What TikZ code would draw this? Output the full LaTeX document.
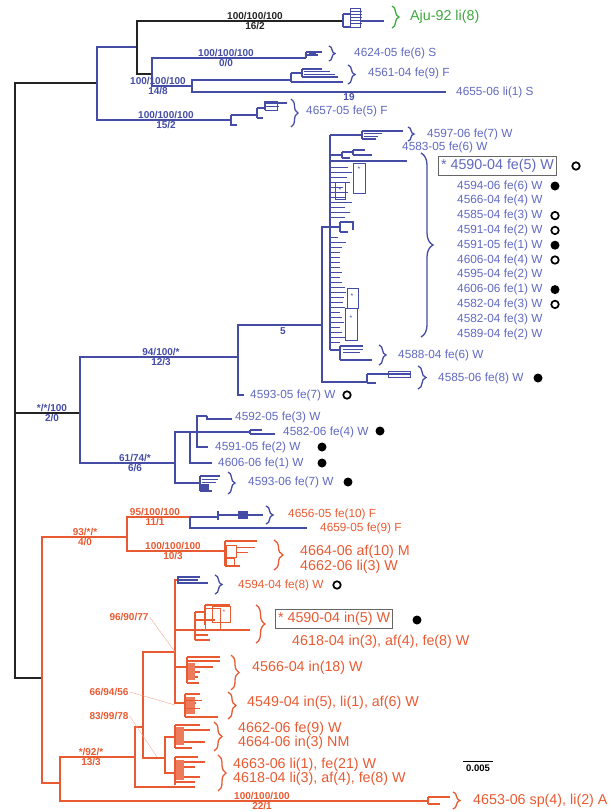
\documentclass[tikz,border=0pt]{standalone}
\usepackage{fontspec}
\setmainfont{Liberation Sans}
\usetikzlibrary{decorations.pathreplacing}
\definecolor{treeblue}{RGB}{68,76,165}
\definecolor{labblue}{RGB}{96,104,192}
\definecolor{treered}{RGB}{232,90,50}
\definecolor{treegreen}{RGB}{64,168,64}
\definecolor{treeblack}{RGB}{35,35,35}

\begin{document}
\begin{tikzpicture}[x=1pt,y=-1pt,
  bl/.style={draw=treeblue,line width=1.2pt},
  rd/.style={draw=treered,line width=1.2pt},
  bk/.style={draw=treeblack,line width=2pt},
  thin/.style={line width=0.6pt},
  lbl/.style={anchor=west,inner sep=0pt,font=\fontsize{11.8}{12}\selectfont},
  biglbl/.style={anchor=west,inner sep=0pt,font=\fontsize{14.3}{15}\selectfont},
  supa/.style={anchor=south,inner sep=1pt,font=\fontsize{10}{10}\selectfont\bfseries},
  supb/.style={anchor=north,inner sep=1.5pt,font=\fontsize{10}{10}\selectfont\bfseries},
  brc/.style={decorate,decoration={brace,amplitude=#1},line width=1.3pt},
  brc/.default=7pt,
  fdot/.style={circle,fill=black,inner sep=0pt,minimum size=9pt},
  odot/.style={circle,draw=black,line width=1.7pt,inner sep=0pt,minimum size=7.5pt},
  tag/.style={draw=black!60,line width=1.1pt,inner sep=2.5pt,anchor=west,font=\fontsize{14.3}{15}\selectfont},
  star/.style={inner sep=0pt,font=\fontsize{7}{7}\selectfont},
  lead/.style={draw=treered!55,line width=0.4pt}]
\useasboundingbox (0,0) rectangle (612,812);

\coordinate (root) at (15,400);
\coordinate (ntop) at (97,83);
\coordinate (naju) at (137,47);
\coordinate (laju) at (343,21);
\coordinate (n148) at (152,74);
\coordinate (l4624) at (306,58);
\coordinate (n192) at (192,86);
\coordinate (l4561) at (291,80);
\coordinate (l4655) at (446,92);
\coordinate (l4657) at (231,120);
\coordinate (nblue) at (80,413);
\coordinate (n94) at (238,357);
\coordinate (n5) at (322,325);
\coordinate (comb) at (330,227);
\coordinate (l4585) at (367,382);
\coordinate (l4593a) at (244,395);
\coordinate (n61) at (175,463);
\coordinate (n190) at (190,432);
\coordinate (n197) at (197,432);
\coordinate (l4592) at (207,416);
\coordinate (l4582) at (250,432);
\coordinate (l4591) at (208,447);
\coordinate (l4606) at (212,463);
\coordinate (l4593b) at (200,483);
\coordinate (nred) at (42,678);
\coordinate (n93) at (127,537);
\coordinate (n95) at (190,517);
\coordinate (l4656) at (218,517);
\coordinate (l4659) at (307,528);
\coordinate (l4664) at (225,551);
\coordinate (n13) at (60,783);
\coordinate (l4653) at (428,801);
\coordinate (n135) at (135,757);
\coordinate (n83) at (143,727);
\coordinate (l787) at (195,787);
\coordinate (n96) at (175,652);
\coordinate (n165) at (165,758);
\coordinate (l4594) at (178,580);
\coordinate (l4590) at (195,630);
\coordinate (l4566) at (187,667);
\coordinate (l4549) at (185,703);
\coordinate (l4662) at (175,737);
\coordinate (l4663) at (175,773);

\draw[bk] (root) |- (ntop) (root) |- (nblue) (root) |- (nred);
\draw[bl] (ntop) |- (naju) (ntop) |- (l4657);
\draw[bk] (naju) |- (laju) (naju) |- (n148);
\draw[bl] (n148) |- (l4624) (n148) |- (n192) (n192) |- (l4561) (n192) |- (l4655);
\draw[bl] (nblue) |- (n94) (nblue) |- (n61) (n94) |- (n5) (n94) |- (l4593a) (n5) |- (comb) (n5) |- (l4585);
\draw[bl] (n61) |- (n190) (n61) |- (l4593b) (n190) -- (l4582) (n190) |- (l4606) (n197) |- (l4592) (n197) |- (l4591);
\draw[rd] (nred) |- (n93) (nred) |- (n13) (n93) |- (n95) (n93) |- (l4664);
\draw[bl] (n95) |- (l4656) (n95) |- (l4659);
\draw[rd] (n13) |- (l4653) (n13) |- (n135) (n135) |- (n83) (n135) |- (l787) (n83) |- (n96) (n83) |- (n165);
\draw[rd] (n96) |- (l4594) (n96) |- (l4590) (n96) |- (l4566) (n96) |- (l4549) (n165) |- (l4662) (n165) |- (l4663);

% support values
\node[supa,treeblack] (s1a) at (255,21) {100/100/100};
\node[supb,treeblack] (s1b) at (255,21) {16/2};
\node[supa,treeblue] (s2a) at (226,58) {100/100/100};
\node[supb,treeblue] (s2b) at (226,58) {0/0};
\node[supa,treeblue] (s3a) at (158,86) {100/100/100};
\node[supb,treeblue] (s3b) at (158,86) {14/8};
\node[supb,treeblue] (s3c) at (349,92) {19};
\node[supa,treeblue] (s4a) at (166,120) {100/100/100};
\node[supb,treeblue] (s4b) at (166,120) {15/2};
\node[supa,treeblue] (s5a) at (52,413) {*/*/100};
\node[supb,treeblue] (s5b) at (52,413) {2/0};
\node[supa,treeblue] (s6a) at (161,357) {94/100/*};
\node[supb,treeblue] (s6b) at (161,357) {12/3};
\node[supb,treeblue] (s7b) at (283,326) {5};
\node[supa,treeblue] (s8a) at (135,463) {61/74/*};
\node[supb,treeblue] (s8b) at (135,463) {6/6};
\node[supa,treered] (s9a) at (85,537) {93/*/*};
\node[supb,treered] (s9b) at (85,537) {4/0};
\node[supa,treered] (s10a) at (155,517) {95/100/100};
\node[supb,treered] (s10b) at (155,517) {11/1};
\node[supa,treered] (s11a) at (173,551) {100/100/100};
\node[supb,treered] (s11b) at (173,551) {10/3};
\node[supa,treered] (s12a) at (91,757) {*/92/*};
\node[supb,treered] (s12b) at (91,757) {13/3};
\node[supa,treered] (s13a) at (262,801) {100/100/100};
\node[supb,treered] (s13b) at (262,801) {22/1};
\node[supa,treered,anchor=center] (s14) at (129,617) {96/90/77};
\node[supa,treered,anchor=center] (s15) at (109,692) {66/94/56};
\node[supa,treered,anchor=center] (s16) at (109,716) {83/99/78};
\draw[lead] (s14.east) -- (n96);
\draw[lead] (s15.east) -- (175,705);
\draw[lead] (s16.east) -- (157,757);

% top clades
\draw[bl] (343,14) -- (343,27) (343,14) -- (350,14) (343,27) -- (350,27) (360,21) -- (384,21);
\draw[bl,thin] (350,8) rectangle (360,27);
\foreach \yy in {11,14,17,20,23} \draw[bl,thin] (350,\yy) -- (362,\yy);
\draw[brc,treegreen] (392,6) -- (392,28);
\node[biglbl,text=treegreen] (aju) at (410,17) {Aju-92 li(8)};

\draw[bl] (306,52) -- (306,58) (306,52) -- (322,52) (306,55) -- (318,55);
\fill[treeblue] (309,51) rectangle (316,56);
\draw[brc=6pt,treeblue] (329,46) -- (329,61);
\node[lbl,text=labblue] (t4624) at (354,53) {4624-05 fe(6) S};

\draw[bl] (291,73) -- (291,82) (291,82) -- (343,82) (291,73) -- (302,73);
\draw[bl] (302,69) -- (302,77) (302,69) -- (322,69) (302,77) -- (338,77);
\draw[bl,thin] (304,71.5) -- (330,71.5) (304,74) -- (335,74);
\draw[brc,treeblue] (348,65) -- (348,84);
\node[lbl,text=labblue] (t4561) at (368,73) {4561-04 fe(9) F};
\node[lbl,text=labblue] (t4655) at (456,92) {4655-06 li(1) S};

\draw[bl] (231,115) -- (231,125) -- (237,125) (231,115) -- (257,115);
\draw[bl] (257,108) -- (257,118) (257,118) -- (263,118) (257,108) -- (265,108);
\draw[bl] (265,101) -- (265,110) (265,103) -- (287,103);
\draw[bl,thin] (265,101) rectangle (277,110) (265,106) -- (279,106);
\draw[brc,treeblue] (291,99) -- (291,127);
\node[lbl,text=labblue] (t4657) at (306,111) {4657-05 fe(5) F};

% large blue clade
\draw[bl] (330,135) -- (330,350) (330,135) -- (362,135);
\draw[bl] (362,131) -- (362,139) (362,131) -- (403,131) (362,139) -- (376,139);
\draw[bl,thin] (364,133.5) -- (382,133.5) (364,136) -- (378,136);
\draw[brc=6pt,treeblue] (408,127) -- (408,141);
\node[lbl,text=labblue] (t4597) at (427,134) {4597-06 fe(7) W};
\node[lbl,text=labblue] (t4583) at (402,147) {4583-05 fe(6) W};
\draw[bl] (330,155) -- (342,155) (342,152) -- (342,158) (342,152) -- (353,152) (342,158) -- (350,158);
\draw[bl] (353,150) -- (353,155) (353,150) -- (365,150) (353,155) -- (372,155);
\draw[bl] (330,161) -- (407,161);
\foreach \yy/\xe in {167/348,172/352,177/347,182/350,187/343,192/348,197/345,202/352,207/345,212/350,217/345,
  237/338,242/346,247/342,252/340,257/340,262/340,267/340,272/342,277/340,282/342,287/345,292/346,297/344,
  302/343,307/345,312/340,317/342,322/344,327/340,332/342,337/345,342/340}
  \draw[bl,line width=1pt] (330,\yy) -- (\xe,\yy);
\draw[bl] (330,227) -- (340,227) (340,222) -- (340,232) (340,222) -- (353,222) -- (353,230) (340,232) -- (348,232);
\draw[bl,thin] (353,163) rectangle (365,193) (335,182) rectangle (345,199) (347,288) rectangle (358,308) (345,308) rectangle (357,340);
\node[star,treeblue] (a1) at (359,169) {*};
\node[star,treeblue] (a2) at (340,190) {*};
\node[star,treeblue] (a3) at (352,296) {*};
\node[star,treeblue] (a4) at (351,318) {*};
\draw[brc=12pt,treeblue] (421,153) -- (421,337);
\node[tag,text=labblue] (t4590a) at (438,166) {* 4590-04 fe(5) W};
\node[odot] (m0) at (576,166) {};
\foreach \t [count=\i] in {4594-06 fe(6) W,4566-04 fe(4) W,4585-04 fe(3) W,4591-04 fe(2) W,4591-05 fe(1) W,
  4606-04 fe(4) W,4595-04 fe(2) W,4606-06 fe(1) W,4582-04 fe(3) W,4582-04 fe(3) W,4589-04 fe(2) W}
  \node[lbl,text=labblue] (w\i) at (457,{186+(\i-1)*14.8}) {\t};
\foreach \i/\m in {1/fdot,3/odot,4/odot,5/fdot,6/odot,8/fdot,9/odot}
  \node[\m] (m\i) at (555,{186+(\i-1)*14.8}) {};

\draw[bl] (330,350) -- (340,350) (340,346) -- (340,360) (340,346) -- (363,346) (340,360) -- (372,360);
\draw[bl,thin] (343,349) -- (363,349) (343,352) -- (360,352);
\draw[brc,treeblue] (379,345) -- (379,365);
\node[lbl,text=labblue] (t4588) at (398,355) {4588-04 fe(6) W};

\draw[bl] (367,374) -- (367,383) (367,374) -- (410,374) (367,383) -- (376,383);
\draw[bl,thin] (388,371) rectangle (410,377);
\draw[brc=8pt,treeblue] (418,366) -- (418,389);
\node[lbl,text=labblue] (t4585) at (438,378) {4585-06 fe(8) W};
\node[fdot] (m4585) at (538,378) {};

\node[lbl,text=labblue] (t4593a) at (250,395) {4593-05 fe(7) W};
\node[odot] (m4593a) at (347,395) {};

% lower blue clade
\draw[bl] (207,416) -- (207,419) -- (232,419);
\node[lbl,text=labblue] (t4592) at (235,417) {4592-05 fe(3) W};
\draw[bl] (250,430) -- (250,434) (250,430) -- (262,430) (250,434) -- (275,434);
\node[lbl,text=labblue] (t4582) at (283,432) {4582-06 fe(4) W};
\node[fdot] (m4582) at (380,431) {};
\node[lbl,text=labblue] (t4591) at (215,447) {4591-05 fe(2) W};
\node[fdot] (m4591) at (322,447) {};
\node[lbl,text=labblue] (t4606) at (218,463) {4606-06 fe(1) W};
\node[fdot] (m4606) at (322,463) {};
\draw[bl] (200,476) -- (200,491) (200,476) -- (220,476) (200,491) -- (212,491);
\draw[bl,thin] (202,479) -- (218,479) (202,482) -- (216,482);
\fill[treeblue] (201,484) rectangle (209,491);
\draw[brc,treeblue] (228,472) -- (228,494);
\node[lbl,text=labblue] (t4593b) at (248,482) {4593-06 fe(7) W};
\node[fdot] (m4593b) at (348,482) {};

% red clade
\draw[bl] (218,511) -- (218,520) (218,515) -- (263,515);
\fill[treeblue] (238,511) rectangle (248,519);
\draw[brc,treeblue] (266,506) -- (266,524);
\node[lbl,text=treered] (t4656) at (288,514) {4656-05 fe(10) F};
\node[lbl,text=treered] (t4659) at (320,528) {4659-05 fe(9) F};

\draw[rd] (225,541) -- (225,566) (225,541) -- (257,541) (225,566) -- (240,566);
\draw[rd,thin] (226,545) rectangle (236,557) (226,558) rectangle (234,566) (236,547) -- (255,547) (236,552) -- (248,552);
\draw[brc=9pt,treered] (274,540) -- (274,570);
\node[biglbl,text=treered] (t4664a) at (300,552) {4664-06 af(10) M};
\node[biglbl,text=treered] (t4662a) at (300,567) {4662-06 li(3) W};

\draw[bl] (178,576) -- (178,584) (178,577) -- (200,577) (178,580) -- (198,580) (178,583) -- (208,583);
\draw[brc,treeblue] (215,575) -- (215,594);
\node[lbl,text=treered] (t4594) at (238,585) {4594-04 fe(8) W};
\node[odot] (m4594) at (337,585) {};

\draw[rd] (195,630) -- (250,630) (195,612) -- (195,640) (195,612) -- (205,612) (195,640) -- (210,640) (195,620) -- (215,620) (195,635) -- (208,635);
\draw[rd] (205,605) -- (205,625) (205,605) -- (230,605);
\draw[rd,thin] (205,608) rectangle (220,630) (212,606) rectangle (230,622);
\node[star,treered] (a5) at (224,612) {*};
\draw[brc=9pt,treered] (256,605) -- (256,643);
\node[tag,text=treered] (t4590b) at (275,619) {* 4590-04 in(5) W};
\node[fdot] (m4590b) at (417,620) {};
\node[biglbl,text=treered] (t4618a) at (292,642) {4618-04 in(3), af(4), fe(8) W};

\draw[rd] (187,657) -- (187,683) (187,657) -- (220,657) (187,661) -- (220,661) (187,667) -- (213,667) (187,672) -- (200,672) (187,677) -- (198,677) (187,683) -- (199,683);
\fill[treered!80] (188,663) rectangle (195,680);
\draw[brc=8pt,treered] (231,655) -- (231,690);
\node[biglbl,text=treered] (t4566) at (252,668) {4566-04 in(18) W};

\draw[rd] (185,694) -- (185,717) (185,694) -- (200,694) (185,717) -- (218,717) (185,703) -- (196,703);
\fill[treered!80] (186,697) rectangle (195,714);
\draw[rd,thin] (186,700) -- (202,700) (186,708) -- (200,708);
\draw[brc=8pt,treered] (228,692) -- (228,719);
\node[biglbl,text=treered] (t4549) at (247,703) {4549-04 in(5), li(1), af(6) W};

\draw[rd] (175,725) -- (175,748) (175,725) -- (200,725) (175,730) -- (210,730) (175,742) -- (205,742) (175,748) -- (192,748);
\fill[treered!80] (176,727) rectangle (184,745);
\draw[brc=8pt,treered] (214,722) -- (214,751);
\node[biglbl,text=treered] (t4662b) at (238,729) {4662-06 fe(9) W};
\node[biglbl,text=treered] (t4664b) at (238,743) {4664-06 in(3) NM};

\draw[rd] (175,757) -- (175,785) (175,757) -- (198,757) (175,762) -- (205,762) (175,767) -- (195,767) (175,777) -- (200,777) (175,782) -- (195,782);
\fill[treered!80] (176,760) rectangle (184,780);
\draw[brc=8pt,treered] (218,755) -- (218,791);
\node[biglbl,text=treered] (t4663) at (233,765) {4663-06 li(1), fe(21) W};
\node[biglbl,text=treered] (t4618b) at (233,779) {4618-04 li(3), af(4), fe(8) W};

\draw[rd] (428,797) -- (428,804) (428,797) -- (450,797) (428,804) -- (440,804);
\draw[brc,treered] (453,792) -- (453,809);
\node[biglbl,text=treered] (t4653) at (473,801) {4653-06 sp(4), li(2) A};

\draw[black,line width=1pt] (463,761) -- (493,761);
\node[anchor=north,inner sep=1pt,font=\fontsize{9.5}{9.5}\selectfont\bfseries] (scale) at (478,764) {0.005};
\end{tikzpicture}
\end{document}
